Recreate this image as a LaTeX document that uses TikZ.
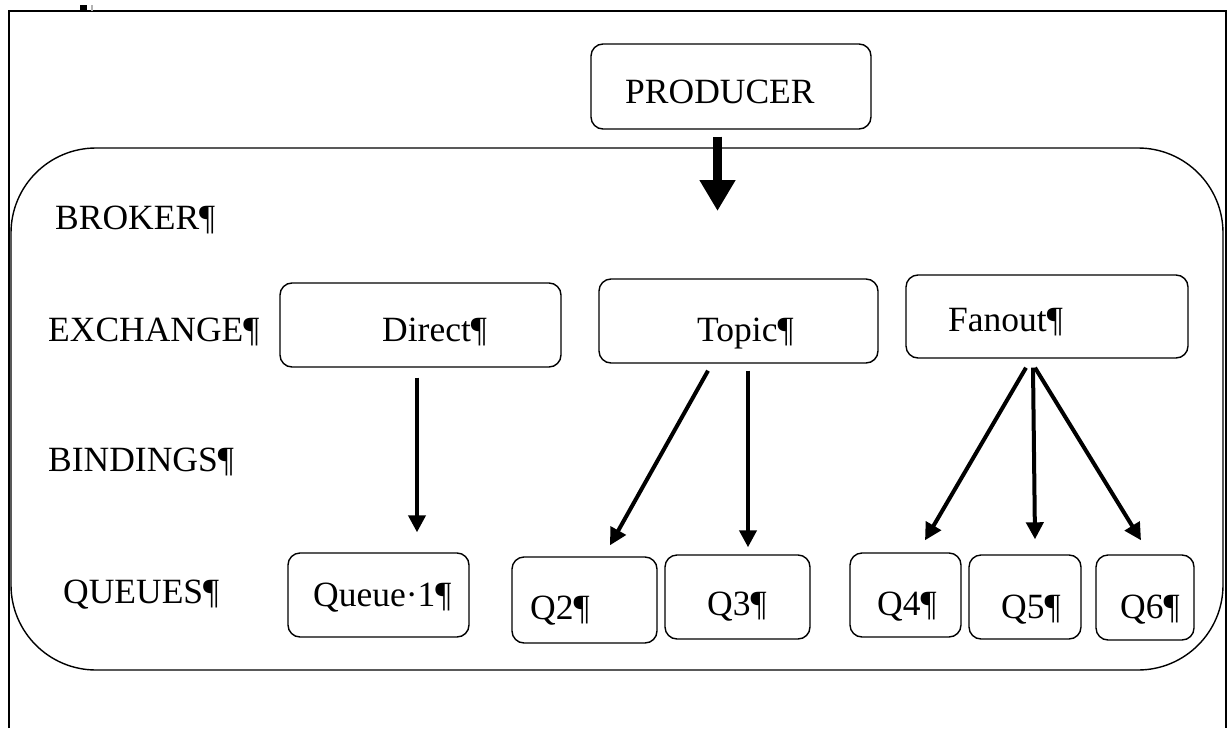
\documentclass[tikz,border=0pt]{standalone}
\usepackage{fontspec}
\setmainfont{Liberation Serif}
\usetikzlibrary{arrows.meta}
\tikzset{
  box/.style={draw, line width=1.4pt, rounded corners=12pt, inner sep=0pt},
  lbl/.style={anchor=base west, inner sep=0pt, font=\fontsize{35.5}{40}\selectfont},
  conn/.style={line width=4pt, -{Triangle[length=17pt,width=17pt]}},
  bigconn/.style={line width=9pt, -{Triangle[length=31pt,width=34pt]}}
}
\begin{document}
\begin{tikzpicture}[x=1pt,y=-1pt]
\useasboundingbox (0,0) rectangle (1228,728);
% outer frame
\draw[line width=1.8pt] (9,728) -- (9,11) -- (1226,11) -- (1226,728);
\fill (80,5) rectangle (87,11);
\fill[gray!60] (91,5) rectangle (93,11);
% broker container
\node[draw, line width=1.4pt, rounded corners=85pt, inner sep=0pt,
      minimum width=1212pt, minimum height=522pt] (broker) at (617,409) {};
% producer
\node[box, minimum width=280pt, minimum height=85pt] (prod) at (731,86.5) {};
\node[lbl] (prodt) at (625,103) {PRODUCER};
% row labels
\node[lbl] (lbroker) at (55,229) {BROKER¶};
\node[lbl] (lexch) at (48,341) {EXCHANGE¶};
\node[lbl] (lbind) at (48,471) {BINDINGS¶};
\node[lbl] (lqueue) at (63,603) {QUEUES¶};
% exchanges
\node[box, minimum width=281pt, minimum height=84pt] (direct) at (420.5,325) {};
\node[lbl] (directt) at (382,341) {Direct¶};
\node[box, minimum width=279pt, minimum height=84pt] (topic) at (738.5,321) {};
\node[lbl] (topict) at (697,341) {Topic¶};
\node[box, minimum width=282pt, minimum height=83pt] (fanout) at (1047,316.5) {};
\node[lbl] (fanoutt) at (948,331) {Fanout¶};
% queues
\node[box, minimum width=181pt, minimum height=84pt] (q1) at (378.5,595) {};
\node[lbl] (q1t) at (313,606) {Queue·1¶};
\node[box, minimum width=145pt, minimum height=86pt] (q2) at (584.5,600) {};
\node[lbl] (q2t) at (530,619) {Q2¶};
\node[box, minimum width=145pt, minimum height=84pt] (q3) at (737.5,597) {};
\node[lbl] (q3t) at (707,615) {Q3¶};
\node[box, minimum width=111pt, minimum height=84pt] (q4) at (905.5,595) {};
\node[lbl] (q4t) at (877,615) {Q4¶};
\node[box, minimum width=112pt, minimum height=84pt] (q5) at (1025,597) {};
\node[lbl] (q5t) at (1001,618) {Q5¶};
\node[box, minimum width=98pt, minimum height=85pt] (q6) at (1145,597.5) {};
\node[lbl] (q6t) at (1120,618) {Q6¶};
% producer arrow
\coordinate (pa) at (717.5,211);
\draw[bigconn] ([xshift=-13.5pt,yshift=-7pt]prod.south) -- (pa);
% bindings
\draw[conn] ([xshift=-3.5pt,yshift=-10pt]direct.south) -- ([xshift=38.5pt,yshift=20pt]q1.north);
\draw[conn] ([xshift=-30.5pt,yshift=-7pt]topic.south) -- ([xshift=25.5pt,yshift=11pt]q2.north);
\draw[conn] ([xshift=9.5pt,yshift=-7pt]topic.south) -- ([xshift=10.5pt,yshift=7pt]q3.north);
\draw[conn] ([xshift=-21pt,yshift=-9pt]fanout.south) -- ([xshift=19.5pt,yshift=12pt]q4.north);
\draw[conn] ([xshift=-14pt,yshift=-9pt]fanout.south) -- ([xshift=10pt,yshift=15pt]q5.north);
\draw[conn] ([xshift=-12pt,yshift=-9pt]fanout.south) -- ([xshift=-4pt,yshift=14pt]q6.north);
\end{tikzpicture}
\end{document}
